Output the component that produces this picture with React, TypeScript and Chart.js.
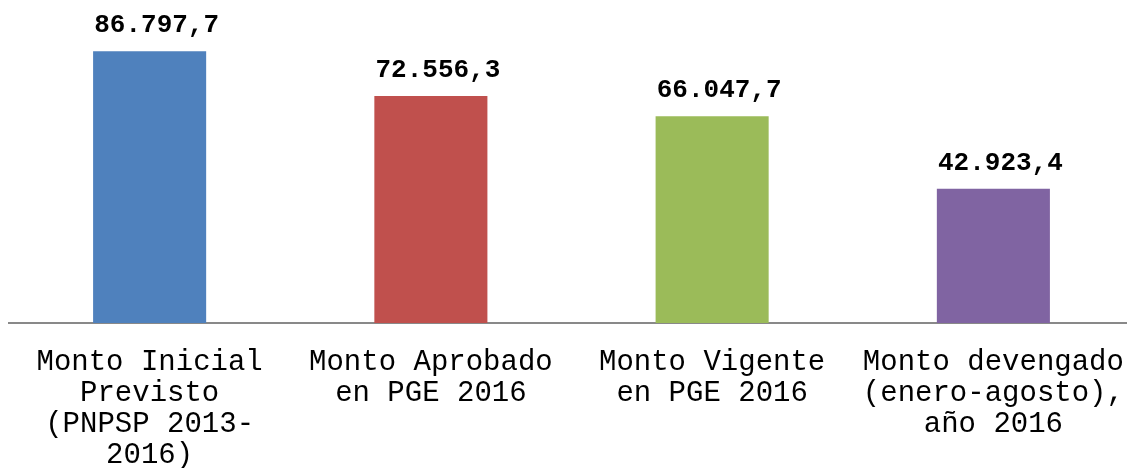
import React, { useEffect, useRef } from "react";
import { Chart, registerables } from "chart.js";

Chart.register(...registerables);

const categories: string[][] = [
  ["Monto Inicial", "Previsto", "(PNPSP 2013-", "2016)"],
  ["Monto Aprobado", "en PGE 2016"],
  ["Monto Vigente", "en PGE 2016"],
  ["Monto devengado", "(enero-agosto),", "año 2016"],
];
const values: number[] = [86797.7, 72556.3, 66047.7, 42923.4];
const barColors: string[] = ["#4F81BD", "#C0504D", "#9BBB59", "#8064A2"];
const yMax = 100000;

const FONT = '"Liberation Mono", "Courier New", monospace';

function formatEs(v: number): string {
  const [intPart, dec] = v.toFixed(1).split(".");
  const withDots = intPart.replace(/\B(?=(\d{3})+(?!\d))/g, ".");
  return withDots + "," + dec;
}

const valueLabels = {
  id: "valueLabels",
  afterDatasetsDraw(chart: any) {
    const ctx = chart.ctx;
    const meta = chart.getDatasetMeta(0);
    ctx.save();
    ctx.font = `bold 26px ${FONT}`;
    ctx.fillStyle = "#000";
    ctx.textAlign = "center";
    ctx.textBaseline = "alphabetic";
    meta.data.forEach((el: any, i: number) => {
      ctx.fillText(formatEs(values[i]), el.x + 7, el.y - 19);
    });
    ctx.restore();
  },
};

export default function App() {
  const ref = useRef<HTMLCanvasElement>(null);
  useEffect(() => {
    if (!ref.current) return;
    const H = 468;
    const chart = new Chart(ref.current, {
      type: "bar",
      data: {
        labels: categories,
        datasets: [
          {
            data: values,
            backgroundColor: barColors,
            borderWidth: 0,
            barPercentage: 0.402,
            categoryPercentage: 1,
          },
        ],
      },
      options: {
        animation: false,
        responsive: false,
        layout: { padding: { left: 9, top: 10, right: 0, bottom: 0 } },
        plugins: { legend: { display: false }, tooltip: { enabled: false } },
        scales: {
          x: {
            grid: { display: false, drawTicks: false },
            border: { display: true, color: "#898989", width: 2 },
            ticks: {
              color: "#000",
              autoSkip: false,
              maxRotation: 0,
              minRotation: 0,
              padding: 24,
              font: { family: FONT, size: 29, lineHeight: 31 / 29 },
            },
            afterFit: (scale: any) => {
              scale.height = H - 323;
              scale.paddingLeft = 0;
              scale.paddingRight = 0;
            },
          },
          y: {
            display: false,
            min: 0,
            max: yMax,
          },
        },
      },
      plugins: [valueLabels],
    });
    return () => chart.destroy();
  }, []);
  return (
    <div
      style={{
        position: "fixed",
        left: 0,
        top: 0,
        width: 1127,
        height: 468,
        overflow: "hidden",
        background: "#fff",
      }}
    >
      <canvas ref={ref} width={1134} height={468} style={{ display: "block" }} />
    </div>
  );
}
